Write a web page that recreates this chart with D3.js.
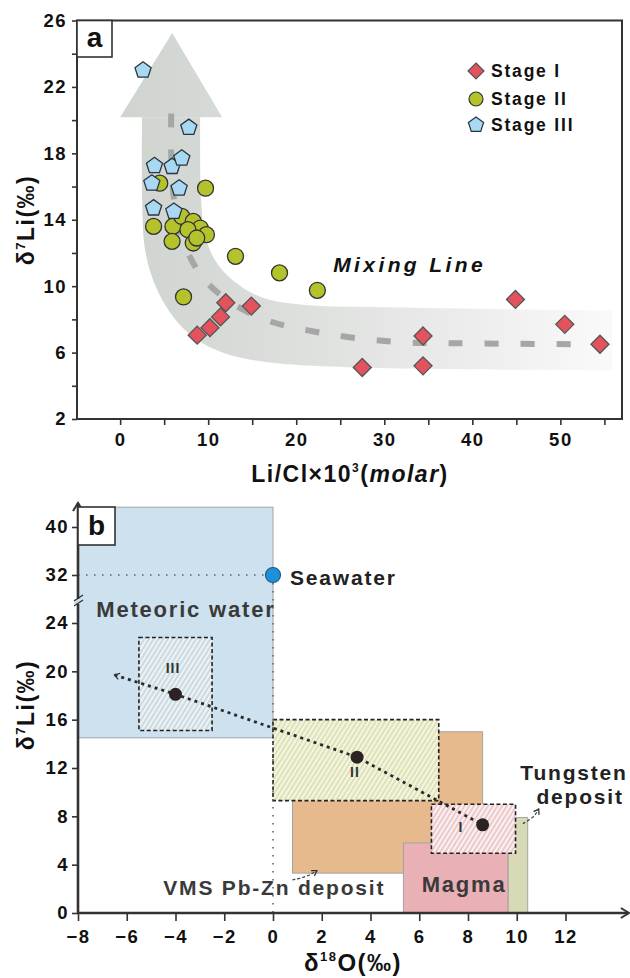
<!DOCTYPE html>
<html lang="en">
<head>
<meta charset="utf-8">
<title>Li isotopes - mixing and sources</title>
<script src="https://cdn.jsdelivr.net/npm/d3@7"></script>
<style>
body { margin: 0; background: #fff; }
svg { display: block; font-family: "Liberation Sans", Arial, sans-serif; font-weight: bold; }
.tick text { font-family: "Liberation Sans", Arial, sans-serif; font-weight: bold; font-size: 18.5px; letter-spacing: 1.5px; fill: #111; }
.tick line { stroke: #333; stroke-width: 1.6; }
.lab { fill: #3a3a3a; font-size: 21px; letter-spacing: 1.8px; }
</style>
</head>
<body>
<svg id="chart" width="630" height="978"></svg>
<script>
// ---- panel a data ----
var stage1X = [8.75, 10.2, 11.4, 12.0, 14.9, 27.5, 34.4, 34.4, 44.9, 50.5, 54.5];
var stage1Y = [7.05, 7.5, 8.15, 9.0, 8.8, 5.1, 7.0, 5.2, 9.2, 7.7, 6.5];
var stage2X = [4.5, 9.7, 3.8, 6.0, 7.0, 8.3, 9.1, 9.8, 7.7, 5.9, 8.3, 8.7, 13.1, 18.1, 7.2, 22.4];
var stage2Y = [16.2, 15.9, 13.6, 13.6, 14.2, 13.9, 13.5, 13.1, 13.4, 12.7, 12.6, 12.9, 11.8, 10.8, 9.35, 9.75];
var stage3X = [2.6, 7.8, 3.9, 5.9, 7.0, 3.6, 6.7, 3.8, 6.1];
var stage3Y = [23.0, 19.55, 17.25, 17.2, 17.7, 16.2, 15.9, 14.7, 14.5];

// dashed mixing curve
var mixX = [5.8, 5.8, 6.1, 6.9, 8.5, 11.0, 15.9, 22.7, 31.1, 40, 55.7];
var mixY = [20.4, 17.9, 15.3, 13.2, 11.2, 9.65, 8.1, 7.2, 6.65, 6.55, 6.5];

// grey arrow band (inner edge, outer edge, head)
var innerX = [9.09, 9.2, 9.66, 10.8, 13.07, 16.14, 20.45, 31.82, 55.9];
var innerY = [20.18, 15.17, 13.06, 11.55, 10.23, 9.32, 8.9, 8.72, 8.54];
var outerX = [55.9, 31.82, 23.86, 17.05, 11.93, 8.52, 5.91, 3.98, 2.84, 2.5, 2.5];
var outerY = [4.92, 5.04, 5.16, 5.4, 5.95, 6.85, 8.24, 10.05, 12.16, 15.17, 20.18];
var headX = [0, 5.91, 11.59];
var headY = [20.18, 25.25, 20.18];

var legendLabels = ["Stage I", "Stage II", "Stage III"];

// ---- panel b data ----
var stageNames = ["I", "II", "III"];
var stageCX = [8.6, 3.45, -4.0];
var stageCY = [7.3, 12.9, 18.1];
var boxX0 = [6.5, 0, -5.5], boxX1 = [9.95, 6.8, -2.5];
var boxY0 = [4.95, 9.3, 15.1], boxY1 = [9.0, 16.0, 22.8];

var resNames = ["Meteoric water", "VMS Pb-Zn deposit", "Magma", "Tungsten deposit"];
var resX0 = [-8, 0.8, 5.35, 9.65], resX1 = [0, 8.6, 9.65, 10.45];
var resY0 = [14.5, 3.3, 0, 0], resY1 = [43.3, 15.0, 5.8, 7.9];
var seawater = [0, 32];
var trendStart = [-6.5, 19.7];

var yTicksB = [0, 4, 8, 12, 16, 20, 24, 32, 40];
var xTicksB = d3.range(-8, 13, 2);

var svg = d3.select("#chart");
var defs = svg.append("defs");

// ================= panel a =================
var xA = d3.scaleLinear().domain([-4.9, 57]).range([77, 622]);
var yA = d3.scaleLinear().domain([2, 26]).range([419, 20.5]);

var grad = defs.append("linearGradient").attr("id", "band")
    .attr("gradientUnits", "userSpaceOnUse")
    .attr("x1", xA(0)).attr("x2", xA(56)).attr("y1", 0).attr("y2", 0);
grad.append("stop").attr("offset", 0).attr("stop-color", "#cfd4cf");
grad.append("stop").attr("offset", 0.3).attr("stop-color", "#dadddA");
grad.append("stop").attr("offset", 0.7).attr("stop-color", "#ececec");
grad.append("stop").attr("offset", 1).attr("stop-color", "#fafafa");

function lineA(curve) {
    var l = d3.line().x(function(d) { return xA(d[0]); }).y(function(d) { return yA(d[1]); });
    return curve ? l.curve(curve) : l;
}
var innerPath = lineA(d3.curveCatmullRom)(d3.zip(innerX, innerY));
var outerPath = lineA(d3.curveCatmullRom)(d3.zip(outerX, outerY));
svg.append("path").attr("d", innerPath + "L" + outerPath.slice(1) + "Z").attr("fill", "url(#band)");
svg.append("path").attr("d", lineA()(d3.zip(headX, headY)) + "Z").attr("fill", "url(#band)");

svg.append("path")
    .attr("d", lineA(d3.curveCatmullRom)(d3.zip(mixX, mixY)))
    .attr("fill", "none").attr("stroke", "#a6a6a6").attr("stroke-width", 6)
    .attr("stroke-dasharray", "14,22");

svg.append("text").attr("x", xA(24.2)).attr("y", yA(10.83))
    .attr("font-size", 21).attr("font-style", "italic").attr("letter-spacing", 3.4)
    .attr("fill", "#111").text("Mixing Line");

var diamond = { draw: function(c, s) { var r = Math.sqrt(s); c.moveTo(0, -r); c.lineTo(r, 0); c.lineTo(0, r); c.lineTo(-r, 0); c.closePath(); } };
var pentagon = { draw: function(c, s) {
    var r = Math.sqrt(s);
    for (var i = 0; i < 5; i++) {
        var a = -Math.PI / 2 + i * 2 * Math.PI / 5;
        if (i === 0) c.moveTo(r * Math.cos(a), r * Math.sin(a)); else c.lineTo(r * Math.cos(a), r * Math.sin(a));
    }
    c.closePath();
} };

var sym1 = d3.symbol().type(diamond).size(81);
var sym3 = d3.symbol().type(pentagon).size(72);

svg.append("g").selectAll("path").data(d3.zip(stage1X, stage1Y)).join("path")
    .attr("d", sym1).attr("transform", function(d) { return "translate(" + xA(d[0]) + "," + yA(d[1]) + ")"; })
    .attr("fill", "#e2535e").attr("stroke", "#555").attr("stroke-width", 1.3);
svg.append("g").selectAll("circle").data(d3.zip(stage2X, stage2Y)).join("circle")
    .attr("cx", function(d) { return xA(d[0]); }).attr("cy", function(d) { return yA(d[1]); }).attr("r", 8)
    .attr("fill", "#b4c32c").attr("stroke", "#333").attr("stroke-width", 1.3);
svg.append("g").selectAll("path").data(d3.zip(stage3X, stage3Y)).join("path")
    .attr("d", sym3).attr("transform", function(d) { return "translate(" + xA(d[0]) + "," + yA(d[1]) + ")"; })
    .attr("fill", "#a9d8f2").attr("stroke", "#2a3540").attr("stroke-width", 1.3);

// legend
var leg = svg.append("g");
var legY = [71, 99, 125];
leg.append("path").attr("d", d3.symbol().type(diamond).size(64)).attr("transform", "translate(476," + legY[0] + ")")
    .attr("fill", "#e2535e").attr("stroke", "#555").attr("stroke-width", 1.2);
leg.append("circle").attr("cx", 476).attr("cy", legY[1]).attr("r", 7)
    .attr("fill", "#b4c32c").attr("stroke", "#333").attr("stroke-width", 1.2);
leg.append("path").attr("d", d3.symbol().type(pentagon).size(64)).attr("transform", "translate(476," + legY[2] + ")")
    .attr("fill", "#a9d8f2").attr("stroke", "#2a3540").attr("stroke-width", 1.2);
leg.selectAll("text").data(legendLabels).join("text")
    .attr("x", 491).attr("y", function(d, i) { return legY[i] + 6; })
    .attr("font-size", 17.5).attr("letter-spacing", 1.8).attr("fill", "#111").text(function(d) { return d; });

// axes a
var axY = svg.append("g").attr("transform", "translate(77,0)")
    .call(d3.axisLeft(yA).tickValues(d3.range(2, 27, 2)).tickSize(5).tickPadding(5)
        .tickFormat(function(d) { return (d - 2) % 4 === 0 ? d : ""; }));
axY.select(".domain").remove();
var axX = svg.append("g").attr("transform", "translate(0,419)")
    .call(d3.axisBottom(xA).tickValues(d3.range(0, 56, 5)).tickSize(6).tickPadding(8)
        .tickFormat(function(d) { return d % 10 === 0 ? d : ""; }));
axX.select(".domain").remove();

svg.append("rect").attr("x", 77).attr("y", 20.5).attr("width", 545).attr("height", 398.5)
    .attr("fill", "none").attr("stroke", "#333").attr("stroke-width", 2);
svg.append("rect").attr("x", 77).attr("y", 20.5).attr("width", 35).attr("height", 36.5)
    .attr("fill", "#fff").attr("stroke", "#333").attr("stroke-width", 1.6);
svg.append("text").attr("x", 94.5).attr("y", 47).attr("text-anchor", "middle")
    .attr("font-size", 28).attr("fill", "#111").text("a");

var ta = svg.append("text").attr("transform", "translate(34,220) rotate(-90)")
    .attr("text-anchor", "middle").attr("font-size", 23).attr("letter-spacing", 1.5).attr("fill", "#111");
ta.append("tspan").text("δ");
ta.append("tspan").attr("font-size", 13).attr("dy", -9).text("7");
ta.append("tspan").attr("dy", 9).text("Li(‰)");

var tx = svg.append("text").attr("x", 350).attr("y", 482)
    .attr("text-anchor", "middle").attr("font-size", 23).attr("letter-spacing", 1.5).attr("fill", "#111");
tx.append("tspan").text("Li/Cl×10");
tx.append("tspan").attr("font-size", 12).attr("dy", -10).text("3");
tx.append("tspan").attr("dy", 10).text("(");
tx.append("tspan").attr("font-style", "italic").text("molar");
tx.append("tspan").text(")");

// ================= panel b =================
var xB = d3.scaleLinear().domain([-8, 0]).range([78, 273]);
var yB = d3.scaleLinear().domain([0, 24, 44]).range([913, 623, 503]);

function lineB(curve) {
    var l = d3.line().x(function(d) { return xB(d[0]); }).y(function(d) { return yB(d[1]); });
    return curve ? l.curve(curve) : l;
}

var hatchCol = [["#fbf1f1", "#d89aa0"], ["#f5f5e4", "#c6cb7e"], ["#edf3f5", "#a4bccb"]];
hatchCol.forEach(function(c, i) {
    var p = defs.append("pattern").attr("id", "hatch" + i).attr("patternUnits", "userSpaceOnUse")
        .attr("width", 4).attr("height", 4).attr("patternTransform", "rotate(32)");
    p.append("rect").attr("width", 4).attr("height", 4).attr("fill", c[0]);
    p.append("line").attr("x1", 1).attr("y1", 0).attr("x2", 1).attr("y2", 4)
        .attr("stroke", c[1]).attr("stroke-width", 0.9);
});

var arrowM = defs.append("marker").attr("id", "chev").attr("viewBox", "-10 -6 12 12")
    .attr("markerWidth", 12).attr("markerHeight", 12).attr("markerUnits", "userSpaceOnUse")
    .attr("orient", "auto-start-reverse").attr("refX", 0).attr("refY", 0);
arrowM.append("path").attr("d", "M-8,-5L0,0L-8,5").attr("fill", "none").attr("stroke", "#333").attr("stroke-width", 2);
var smallM = defs.append("marker").attr("id", "tiny").attr("viewBox", "-8 -5 10 10")
    .attr("markerWidth", 8).attr("markerHeight", 8).attr("markerUnits", "userSpaceOnUse")
    .attr("orient", "auto-start-reverse");
smallM.append("path").attr("d", "M-6,-4L0,0L-6,4").attr("fill", "none").attr("stroke", "#333").attr("stroke-width", 1.6);

var resFill = ["#cde1ee", "#e7ba8e", "#e9b0b6", "#d8dab6"];
svg.append("g").selectAll("rect").data(resNames).join("rect")
    .attr("x", function(d, i) { return xB(resX0[i]); })
    .attr("y", function(d, i) { return yB(resY1[i]); })
    .attr("width", function(d, i) { return xB(resX1[i]) - xB(resX0[i]); })
    .attr("height", function(d, i) { return yB(resY0[i]) - yB(resY1[i]); })
    .attr("fill", function(d, i) { return resFill[i]; })
    .attr("stroke", "#a3a3a3").attr("stroke-width", 1);

svg.append("g").selectAll("rect").data(stageNames).join("rect")
    .attr("x", function(d, i) { return xB(boxX0[i]); })
    .attr("y", function(d, i) { return yB(boxY1[i]); })
    .attr("width", function(d, i) { return xB(boxX1[i]) - xB(boxX0[i]); })
    .attr("height", function(d, i) { return yB(boxY0[i]) - yB(boxY1[i]); })
    .attr("fill", function(d, i) { return "url(#hatch" + i + ")"; })
    .attr("stroke", "#222").attr("stroke-width", 1.6).attr("stroke-dasharray", "4,2.5");

// seawater guide lines
svg.append("line").attr("x1", xB(-8)).attr("x2", xB(seawater[0])).attr("y1", yB(seawater[1])).attr("y2", yB(seawater[1]))
    .attr("stroke", "#666").attr("stroke-width", 1.6).attr("stroke-dasharray", "1.6,6.4");
svg.append("line").attr("x1", xB(seawater[0])).attr("x2", xB(seawater[0])).attr("y1", yB(seawater[1])).attr("y2", yB(0))
    .attr("stroke", "#666").attr("stroke-width", 1.6).attr("stroke-dasharray", "1.6,6.4");

// trend line through stage centres
var trend = [trendStart, [stageCX[2], stageCY[2]], [stageCX[1], stageCY[1]], [stageCX[0], stageCY[0]]];
svg.append("path")
    .attr("d", lineB()(trend))
    .attr("fill", "none").attr("stroke", "#2a2a2a").attr("stroke-width", 2.8)
    .attr("stroke-dasharray", "3,4").attr("marker-start", "url(#tiny)");

svg.append("g").selectAll("circle").data(stageNames).join("circle")
    .attr("cx", function(d, i) { return xB(stageCX[i]); }).attr("cy", function(d, i) { return yB(stageCY[i]); })
    .attr("r", 6.5).attr("fill", "#2b2323");

svg.append("circle").attr("cx", xB(seawater[0])).attr("cy", yB(seawater[1])).attr("r", 7.5)
    .attr("fill", "#1e90d8").attr("stroke", "#1b5d8c").attr("stroke-width", 1.2);

// leader arrows
svg.append("path")
    .attr("d", lineB(d3.curveBasis)([[0.8, 2.75], [1.4, 3.0], [1.8, 3.5]]))
    .attr("fill", "none").attr("stroke", "#444").attr("stroke-width", 1.3).attr("stroke-dasharray", "3,2")
    .attr("marker-end", "url(#tiny)");
svg.append("path")
    .attr("d", lineB(d3.curveBasis)([[10.25, 7.4], [10.7, 7.9], [10.9, 8.6]]))
    .attr("fill", "none").attr("stroke", "#444").attr("stroke-width", 1.3).attr("stroke-dasharray", "3,2")
    .attr("marker-end", "url(#tiny)");

// labels b
var labs = [
    { t: "Meteoric water", x: -7.25, y: 25, a: "start", s: 22 },
    { t: "Seawater", x: 0.7, y: 30.3, a: "start", s: 21 },
    { t: "VMS Pb-Zn deposit", x: -4.5, y: 1.5, a: "start", s: 21 },
    { t: "Magma", x: 7.84, y: 1.74, a: "middle", s: 22 },
    { t: "Tungsten", x: 12.35, y: 11.0, a: "middle", s: 21 },
    { t: "deposit", x: 12.6, y: 9.0, a: "middle", s: 21 }
];
svg.append("g").selectAll("text").data(labs).join("text").attr("class", "lab")
    .attr("x", function(d) { return xB(d.x); }).attr("y", function(d) { return yB(d.y); })
    .attr("text-anchor", function(d) { return d.a; })
    .style("font-size", function(d) { return d.s + "px"; })
    .style("fill", function(d) { return d.t === "Seawater" || d.t === "Tungsten" || d.t === "deposit" ? "#222" : "#3a3a3a"; })
    .text(function(d) { return d.t; });

var stLabX = [7.71, 3.36, -4.1], stLabY = [6.7, 11.26, 19.9];
svg.append("g").selectAll("text").data(stageNames).join("text")
    .attr("x", function(d, i) { return xB(stLabX[i]); }).attr("y", function(d, i) { return yB(stLabY[i]); })
    .attr("text-anchor", "middle").attr("font-size", 14).attr("letter-spacing", 1).attr("fill", "#333")
    .text(function(d) { return d; });

// axes b
var ayB = svg.append("g").attr("transform", "translate(78,0)")
    .call(d3.axisLeft(yB).tickValues(yTicksB).tickSize(6).tickPadding(3));
ayB.select(".domain").remove();
var axB = svg.append("g").attr("transform", "translate(0,913)")
    .call(d3.axisBottom(xB).tickValues(xTicksB).tickSize(8).tickPadding(9));
axB.select(".domain").remove();

svg.append("line").attr("x1", 78).attr("y1", yB(0)).attr("x2", 78).attr("y2", yB(44))
    .attr("stroke", "#333").attr("stroke-width", 2.6).attr("marker-end", "url(#chev)");
svg.append("line").attr("x1", 78).attr("y1", yB(0)).attr("x2", xB(14.6)).attr("y2", yB(0))
    .attr("stroke", "#333").attr("stroke-width", 2.6).attr("marker-end", "url(#chev)");

// axis break
var by = yB(27.5);
svg.append("rect").attr("x", 74).attr("y", by - 3).attr("width", 8).attr("height", 5).attr("fill", "#cde1ee");
svg.append("line").attr("x1", 74).attr("y1", by - 1).attr("x2", 83).attr("y2", by - 7).attr("stroke", "#333").attr("stroke-width", 1.4);
svg.append("line").attr("x1", 74).attr("y1", by + 4).attr("x2", 83).attr("y2", by - 2).attr("stroke", "#333").attr("stroke-width", 1.4);

svg.append("rect").attr("x", 78).attr("y", 507).attr("width", 37).attr("height", 38)
    .attr("fill", "#fff").attr("stroke", "#333").attr("stroke-width", 1.6);
svg.append("text").attr("x", 96.5).attr("y", 535).attr("text-anchor", "middle")
    .attr("font-size", 28).attr("fill", "#111").text("b");

var tb = svg.append("text").attr("transform", "translate(34,705) rotate(-90)")
    .attr("text-anchor", "middle").attr("font-size", 23).attr("letter-spacing", 1.5).attr("fill", "#111");
tb.append("tspan").text("δ");
tb.append("tspan").attr("font-size", 13).attr("dy", -9).text("7");
tb.append("tspan").attr("dy", 9).text("Li(‰)");

var txb = svg.append("text").attr("x", 353).attr("y", 971)
    .attr("text-anchor", "middle").attr("font-size", 24).attr("letter-spacing", 1.5).attr("fill", "#111");
txb.append("tspan").text("δ");
txb.append("tspan").attr("font-size", 13).attr("dy", -10).text("18");
txb.append("tspan").attr("dy", 10).text("O(‰)");
</script>
</body>
</html>
